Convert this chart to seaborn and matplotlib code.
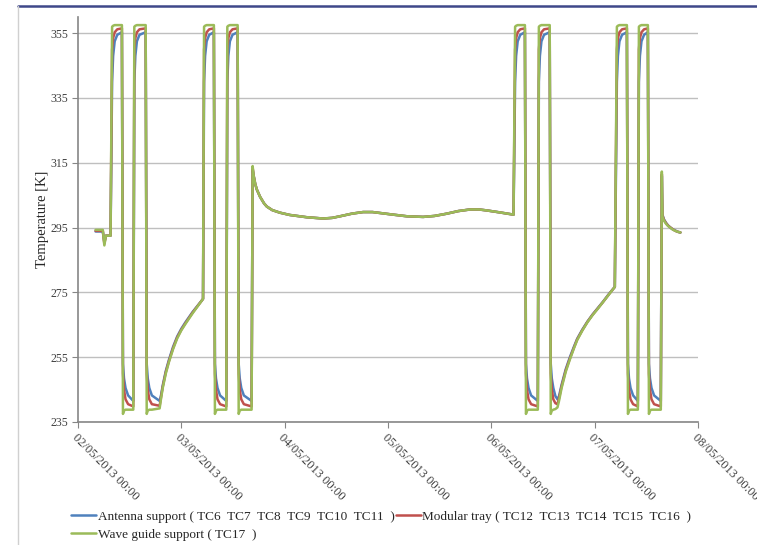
import pandas as pd
import seaborn as sns
import matplotlib.pyplot as plt
import matplotlib.dates as mdates
from matplotlib.lines import Line2D

# days since 02/05/2013 00:00, one line per phase of the test
days = [
    0.170, 0.240, 0.255, 0.270, 0.315,
    0.330, 0.340, 0.355, 0.380, 0.425,
    0.435, 0.445, 0.460, 0.485, 0.535,
    0.545, 0.555, 0.570, 0.595, 0.655,
    0.665, 0.675, 0.690, 0.715, 0.790,
    0.805, 0.820, 0.850, 0.880, 0.920, 0.960, 1.000, 1.040, 1.080, 1.110, 1.160, 1.210,
    1.220, 1.230, 1.245, 1.270, 1.315,
    1.325, 1.335, 1.350, 1.375, 1.435,
    1.445, 1.455, 1.470, 1.495, 1.545,
    1.555, 1.565, 1.580, 1.605, 1.680,
    1.690, 1.700, 1.715, 1.730, 1.762, 1.800, 1.827, 1.880, 1.955, 2.050,
    2.214, 2.372, 2.460, 2.536, 2.650, 2.759, 2.850, 2.923, 3.050, 3.182,
    3.340, 3.450, 3.569, 3.680, 3.795, 3.880, 3.956, 4.080, 4.215,
    4.230, 4.240, 4.255, 4.280, 4.325,
    4.335, 4.345, 4.360, 4.385, 4.450,
    4.460, 4.470, 4.485, 4.510, 4.565,
    4.575, 4.585, 4.600, 4.620, 4.640,
    4.655, 4.680, 4.720, 4.760, 4.800, 4.831, 4.880, 4.930, 4.980, 5.024, 5.080, 5.140, 5.195,
    5.215, 5.225, 5.240, 5.265, 5.312,
    5.322, 5.332, 5.347, 5.372, 5.418,
    5.428, 5.438, 5.453, 5.478, 5.515,
    5.525, 5.535, 5.550, 5.575, 5.640,
    5.650, 5.656, 5.670, 5.690, 5.710, 5.730, 5.755, 5.780, 5.805, 5.830,
]

antenna_k = [
    293.8, 293.8, 290.5, 292.5, 292.5,
    340.0, 348.0, 352.5, 354.5, 355.3,
    253.0, 248.5, 245.5, 243.2, 241.5,
    340.0, 348.0, 352.5, 354.5, 355.3,
    253.0, 248.5, 245.5, 243.2, 241.5,
    243.5, 246.3, 250.8, 254.2, 258.2, 261.4, 263.8, 265.8, 267.6, 269.0, 271.0, 273.0,
    340.0, 348.0, 352.5, 354.5, 355.3,
    253.0, 248.5, 245.5, 243.2, 241.5,
    340.0, 348.0, 352.5, 354.5, 355.3,
    253.0, 248.5, 245.5, 243.2, 241.5,
    313.0, 311.0, 308.5, 306.8, 304.5, 302.5, 301.5, 300.4, 299.6, 298.9,
    298.2, 297.8, 298.0, 298.5, 299.3, 299.8, 299.8, 299.5, 299.0, 298.5,
    298.3, 298.6, 299.3, 300.1, 300.6, 300.6, 300.3, 299.7, 299.0,
    340.0, 348.0, 352.5, 354.5, 355.3,
    253.0, 248.5, 245.5, 243.2, 241.5,
    340.0, 348.0, 352.5, 354.5, 355.3,
    253.0, 248.5, 245.5, 243.0, 242.0,
    243.0, 246.5, 251.3, 255.0, 258.3, 260.7, 263.5, 266.0, 268.2, 269.9, 272.1, 274.6, 276.7,
    340.0, 348.0, 352.5, 354.5, 355.3,
    253.0, 248.5, 245.5, 243.2, 241.5,
    340.0, 348.0, 352.5, 354.5, 355.3,
    253.0, 248.5, 245.5, 243.2, 241.5,
    311.0, 299.0, 297.6, 296.5, 295.7, 295.1, 294.5, 294.1, 293.7, 293.5,
]

modular_k = [
    294.0, 294.0, 290.0, 292.5, 292.5,
    350.0, 353.5, 355.3, 356.2, 356.5,
    250.0, 245.0, 242.0, 240.5, 239.8,
    350.0, 353.5, 355.3, 356.2, 356.5,
    250.0, 245.0, 242.0, 240.5, 240.0,
    243.0, 245.9, 250.4, 253.8, 257.8, 261.1, 263.5, 265.5, 267.4, 268.8, 270.9, 273.0,
    350.0, 353.5, 355.3, 356.2, 356.5,
    250.0, 245.0, 242.0, 240.5, 239.8,
    350.0, 353.5, 355.3, 356.2, 356.5,
    250.0, 245.0, 242.0, 240.5, 239.8,
    313.5, 311.0, 308.5, 306.8, 304.5, 302.5, 301.5, 300.4, 299.6, 298.9,
    298.2, 297.8, 298.0, 298.5, 299.3, 299.8, 299.8, 299.5, 299.0, 298.5,
    298.3, 298.6, 299.3, 300.1, 300.6, 300.6, 300.3, 299.7, 299.0,
    350.0, 353.5, 355.3, 356.2, 356.5,
    250.0, 245.0, 242.0, 240.5, 239.8,
    350.0, 353.5, 355.3, 356.2, 356.5,
    250.0, 245.0, 242.0, 240.8, 240.5,
    242.3, 246.0, 250.9, 254.6, 258.0, 260.5, 263.3, 265.9, 268.1, 269.8, 272.0, 274.5, 276.7,
    350.0, 353.5, 355.3, 356.2, 356.5,
    250.0, 245.0, 242.0, 240.5, 239.8,
    350.0, 353.5, 355.3, 356.2, 356.5,
    250.0, 245.0, 242.0, 240.5, 239.8,
    311.5, 298.8, 297.4, 296.4, 295.6, 295.1, 294.5, 294.0, 293.7, 293.5,
]

waveguide_k = [
    294.3, 294.3, 289.5, 292.5, 292.5,
    357.0, 357.3, 357.5, 357.5, 357.5,
    237.5, 238.5, 238.8, 238.8, 238.8,
    357.0, 357.3, 357.5, 357.5, 357.5,
    237.5, 238.5, 238.8, 238.8, 239.2,
    242.5, 245.5, 250.0, 253.5, 257.5, 260.8, 263.3, 265.3, 267.2, 268.6, 270.8, 273.0,
    357.0, 357.3, 357.5, 357.5, 357.5,
    237.5, 238.5, 238.8, 238.8, 238.8,
    357.0, 357.3, 357.5, 357.5, 357.5,
    237.5, 238.5, 238.8, 238.8, 238.8,
    314.0, 311.0, 308.5, 306.8, 304.5, 302.5, 301.5, 300.4, 299.6, 298.9,
    298.2, 297.8, 298.0, 298.5, 299.3, 299.8, 299.8, 299.5, 299.0, 298.5,
    298.3, 298.6, 299.3, 300.1, 300.6, 300.6, 300.3, 299.7, 299.0,
    357.0, 357.3, 357.5, 357.5, 357.5,
    237.5, 238.5, 238.8, 238.8, 238.8,
    357.0, 357.3, 357.5, 357.5, 357.5,
    237.5, 238.5, 238.8, 239.0, 239.5,
    241.5, 245.5, 250.5, 254.3, 257.8, 260.3, 263.2, 265.8, 268.0, 269.7, 272.0, 274.5, 276.7,
    357.0, 357.3, 357.5, 357.5, 357.5,
    237.5, 238.5, 238.8, 238.8, 238.8,
    357.0, 357.3, 357.5, 357.5, 357.5,
    237.5, 238.5, 238.8, 238.8, 238.8,
    312.3, 298.4, 297.2, 296.2, 295.5, 295.0, 294.4, 294.0, 293.7, 293.5,
]

series_names = [
    'Antenna support ( TC6  TC7  TC8  TC9  TC10  TC11  )',
    'Modular tray ( TC12  TC13  TC14  TC15  TC16  )',
    'Wave guide support ( TC17  )',
]
series_colors = ['#4F81BD', '#C0504D', '#9BBB59']
series_widths = [1.4, 1.2, 2.4]
y_ticks = [235, 255, 275, 295, 315, 335, 355]
start_date = '2013-05-02'
tick_dates = pd.date_range('2013-05-02', '2013-05-08', freq='D')


def build_frame():
    t = pd.Timestamp(start_date) + pd.to_timedelta(days, unit='D')
    frames = []
    for name, vals in zip(series_names, [antenna_k, modular_k, waveguide_k]):
        frames.append(pd.DataFrame({'time': t, 'temp': vals, 'group': name}))
    return pd.concat(frames, ignore_index=True)


def main():
    sns.set_style('white')
    plt.rcParams['font.family'] = ['Liberation Serif', 'DejaVu Serif']

    df = build_frame()
    fig = plt.figure(figsize=(7.57, 5.45), dpi=100)
    ax = fig.add_axes([78 / 757, 1 - 422 / 545, 620 / 757, 405 / 545])

    for name, color, lw in zip(series_names, series_colors, series_widths):
        sns.lineplot(data=df[df['group'] == name], x='time', y='temp', ax=ax,
                     color=color, linewidth=lw, estimator=None, sort=False, label=name)

    ax.set_xlim(tick_dates[0], tick_dates[-1])
    ax.set_ylim(235, 360)
    ax.set_yticks(y_ticks)
    ax.set_xticks(tick_dates)
    ax.xaxis.set_major_formatter(mdates.DateFormatter('%d/%m/%Y %H:%M'))
    ax.grid(axis='y', color='#BFBFBF', linewidth=1)
    ax.set_axisbelow(True)

    for side in ['top', 'right']:
        ax.spines[side].set_visible(False)
    for side in ['left', 'bottom']:
        ax.spines[side].set_color('#868686')
        ax.spines[side].set_linewidth(1.2)

    ax.tick_params(axis='both', direction='out', length=4, color='#868686',
                   labelcolor='#404040', bottom=True, left=True)
    ax.tick_params(axis='y', labelsize=8.5, pad=3)
    ax.tick_params(axis='x', labelsize=9, pad=3)
    plt.setp(ax.get_xticklabels(), rotation=-45, ha='left', va='top', rotation_mode='anchor')

    ax.set_xlabel('')
    ax.set_ylabel('Temperature [K]', fontsize=10.5, color='#262626', labelpad=1)

    handles, labels = ax.get_legend_handles_labels()
    ax.get_legend().remove()
    for h in handles:
        h.set_linewidth(1.8)
    order = [0, 2, 1]
    fig.legend([handles[i] for i in order], [labels[i] for i in order],
               loc='upper left', bbox_to_anchor=(66 / 757, 1 - 505 / 545), ncol=2,
               frameon=False, fontsize=9.5, handlelength=1.9, handletextpad=0.1,
               columnspacing=0.1, labelspacing=0.45, borderaxespad=0)

    # page frame lines around the figure
    fig.add_artist(Line2D([18 / 757, 1], [1 - 5.5 / 545, 1 - 5.5 / 545],
                          color='#3F4889', linewidth=1.8, transform=fig.transFigure))
    fig.add_artist(Line2D([18 / 757, 18 / 757], [0, 1 - 6 / 545],
                          color='#D0D0D0', linewidth=1.0, transform=fig.transFigure))

    fig.savefig('out.png', dpi=100)


if __name__ == '__main__':
    main()
